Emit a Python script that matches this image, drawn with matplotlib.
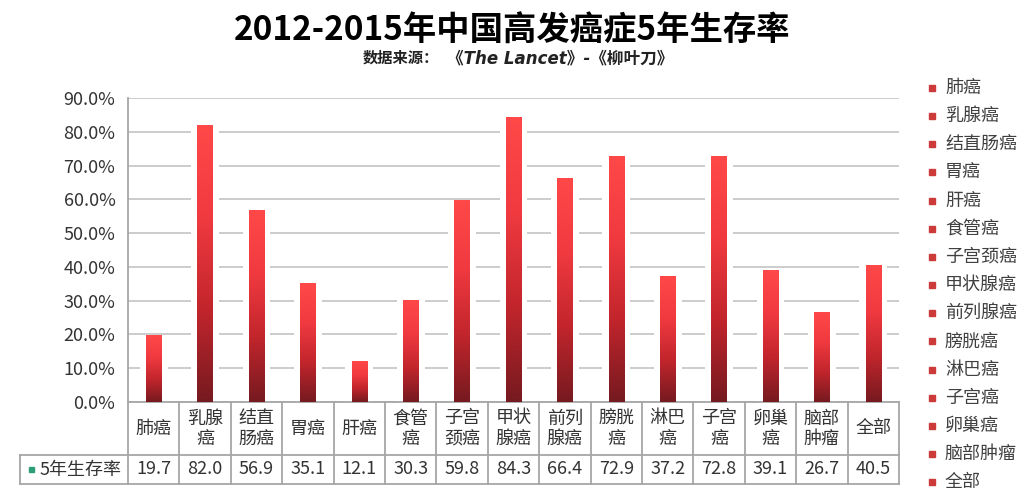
import numpy as np
import matplotlib
matplotlib.use('Agg')
import matplotlib.pyplot as plt
import matplotlib.transforms as mtransforms
from matplotlib.colors import LinearSegmentedColormap
from matplotlib.patches import Rectangle

plt.rcParams['font.family'] = ['Noto Sans CJK SC', 'DejaVu Sans']

# data
cancers = ['肺癌', '乳腺癌', '结直肠癌', '胃癌', '肝癌', '食管癌', '子宫颈癌', '甲状腺癌',
           '前列腺癌', '膀胱癌', '淋巴癌', '子宫癌', '卵巢癌', '脑部肿瘤', '全部']
rates = [19.7, 82.0, 56.9, 35.1, 12.1, 30.3, 59.8, 84.3, 66.4, 72.9, 37.2, 72.8, 39.1, 26.7, 40.5]
series_name = '5年生存率'
yticks = [0, 10, 20, 30, 40, 50, 60, 70, 80, 90]

title = '2012-2015年中国高发癌症5年生存率'
source_label = '数据来源：'
source_name = '《The Lancet》-《柳叶刀》'

W, H = 1024, 495
fig = plt.figure(figsize=(W / 100, H / 100), dpi=100)
ax = fig.add_axes([128 / W, 1 - 402 / H, (899 - 128) / W, (402 - 98) / H])

n = len(cancers)
x = np.arange(n)
text_col = '#333333'
line_col = '#a6a6a6'

# white halo behind bars so the gridlines break around them
ax.bar(x, rates, width=0.54, color='white', zorder=2)
bars = ax.bar(x, rates, width=0.30, color='none', zorder=3)

cmap = LinearSegmentedColormap.from_list('bar', ['#751a20', '#c2252c', '#f03a40', '#ff4848'])
grad = np.linspace(0, 1, 256).reshape(-1, 1)
for b in bars:
    x0 = b.get_x()
    im = ax.imshow(grad, extent=(x0, x0 + b.get_width(), 0, b.get_height()),
                   origin='lower', cmap=cmap, aspect='auto', zorder=3)
    im.set_clip_path(b)

ax.set_xlim(-0.5, n - 0.5)
ax.set_ylim(0, 90)
ax.set_yticks(yticks)
ax.set_yticklabels(['%.1f%%' % v for v in yticks])
ax.set_xticks([])
ax.tick_params(axis='y', length=0, pad=9, labelsize=13, labelcolor=text_col)
ax.grid(axis='y', color='#c8c8c8', linewidth=1.3, zorder=1)
ax.set_axisbelow(True)
for s in ['top', 'right']:
    ax.spines[s].set_visible(False)
ax.spines['left'].set_color(line_col)
ax.spines['bottom'].set_color(line_col)
ax.spines['left'].set_linewidth(1.3)
ax.spines['bottom'].set_linewidth(1.3)

# data table under the axis
axh = 402 - 98
r1 = -53 / axh   # bottom of category row
r2 = -82 / axh   # bottom of value row
left = -108 / 771
blend = mtransforms.blended_transform_factory(ax.transData, ax.transAxes)
lk = dict(color=line_col, linewidth=1.3, clip_on=False, transform=ax.transAxes)
for i in range(n + 1):
    ax.plot([i / n, i / n], [0, r2], **lk)
ax.plot([left, 1], [r1, r1], **lk)
ax.plot([left, 1], [r2, r2], **lk)
ax.plot([left, left], [r1, r2], **lk)

for i, (name, v) in enumerate(zip(cancers, rates)):
    lab = name if len(name) <= 2 else name[:2] + '\n' + name[2:]
    ax.text(i, (0 + r1) / 2, lab, transform=blend, ha='center', va='center',
            fontsize=13, color=text_col, linespacing=1.15)
    ax.text(i, (r1 + r2) / 2, '%.1f' % v, transform=blend, ha='center', va='center',
            fontsize=13, color=text_col)

ax.add_patch(Rectangle((left + 9 / 771, (r1 + r2) / 2 - 2.5 / axh), 5 / 771, 5 / axh,
                       transform=ax.transAxes, color='#2e9e78', clip_on=False))
ax.text(left + 20 / 771, (r1 + r2) / 2, series_name, transform=ax.transAxes,
        ha='left', va='center', fontsize=13, color=text_col)

# legend on the right
for i, name in enumerate(cancers):
    yy = 1 - (88 + i * 28.15) / H
    fig.patches.append(Rectangle((929 / W, yy - 3 / H), 6 / W, 6 / H,
                                 transform=fig.transFigure, color='#cc3a3a'))
    fig.text(945 / W, yy, name, ha='left', va='center', fontsize=13, color='#404040')

fig.text(0.5, 1 - 31 / H, title, ha='center', va='center', fontsize=24,
         fontweight='bold', color='black')
fig.text(363 / W, 1 - 58 / H, source_label, ha='left', va='center', fontsize=11,
         fontweight='bold', color='#222222')
fig.text(447 / W, 1 - 58 / H, source_name, ha='left', va='center', fontsize=12,
         fontweight='bold', style='italic', color='#222222',
         family=['DejaVu Sans', 'Noto Sans CJK SC'])

fig.savefig('out.png', dpi=100, facecolor='white')
